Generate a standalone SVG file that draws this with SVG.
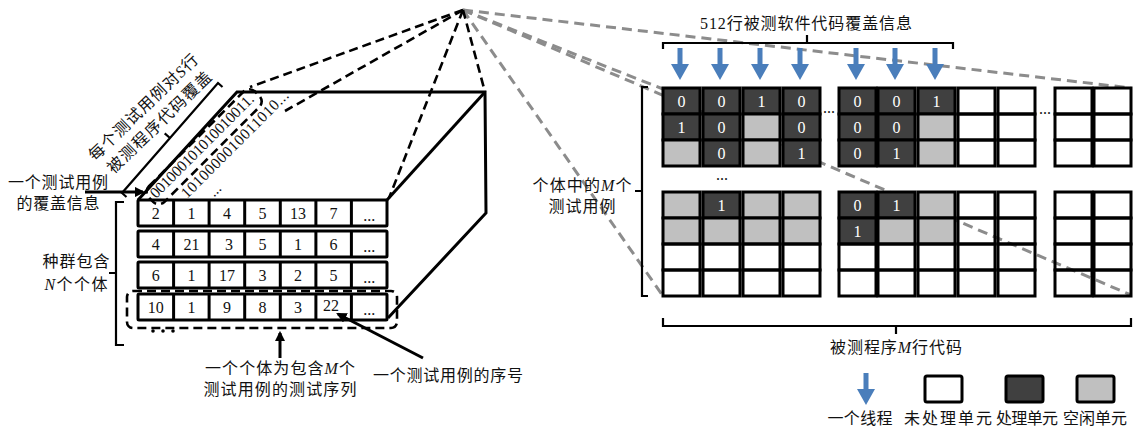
<svg xmlns="http://www.w3.org/2000/svg" width="1134" height="429" viewBox="0 0 1134 429">
<defs>
<style>
text { font-family: "Liberation Serif","Noto Sans CJK SC",serif; fill:#111; }
.lbl { font-size:16px; }
.mid { text-anchor:middle; }
.num { font-size:16px; text-anchor:middle; }
.wn { font-size:16px; text-anchor:middle; fill:#fff; }
.row { fill:none; stroke:#000; stroke-width:3; }
.dv { stroke:#000; stroke-width:3; }
.c { stroke:#000; stroke-width:3; }
.d { fill:#404040; } .g { fill:#c0c0c0; } .w { fill:none; } .lw { fill:#fff; }
.bd { fill:none; stroke:#000; stroke-width:2.6; stroke-dasharray:9 5; }
.gd { fill:none; stroke:#8c8c8c; stroke-width:3; stroke-dasharray:10 6; }
.sl { fill:none; stroke:#000; stroke-width:3; }
.br { fill:none; stroke:#000; stroke-width:2.2; }
.it { font-style:italic; }
.bin { font-size:15.5px; }
</style>
<marker id="ah" viewBox="0 0 10 10" refX="8" refY="5" markerWidth="3.5" markerHeight="3.5" orient="auto"><path d="M0,0 L10,5 L0,10 Z" fill="#000"/></marker>
<path id="ba" d="M-2.5,0 H2.5 V16 H9 L0,32 L-9,16 H-2.5 Z" fill="#4a7ebb"/>
</defs>
<rect x="0" y="0" width="1134" height="429" fill="#fff"/>

<!-- connectors (drawn first so that filled cells cover them) -->
<g id="connectors">
<path class="gd" d="M463,10 L1131,88"/>
<path class="gd" d="M463,10 L663,89"/>
<path class="gd" d="M463,10 L663,296"/>
<path class="gd" d="M463,10 L1131,295"/>
<path class="bd" d="M463,10 L250,87"/>
<path class="bd" d="M463,10 L285,111"/>
<path class="bd" d="M463,10 L389,198"/>
<path class="bd" d="M463,10 L485,92"/>
<path class="sl" d="M85,192 L143,192" marker-end="url(#ah)"/>
<path class="sl" d="M280,358 L280,333" marker-end="url(#ah)"/>
<path class="sl" d="M423,358 L338,314" marker-end="url(#ah)"/>
</g>

<!-- left 3D box -->
<g id="box3d" class="sl">
<path d="M138,200 L237,92 L485,92 L486,213 L388,318"/>
<path d="M387,200 L485,92"/>
</g>

<!-- binary strings -->
<g id="bits" transform="translate(156,199) rotate(-45)">
<rect x="-4" y="-14" width="150" height="22" rx="8" class="bd"/>
<text class="bin" x="0" y="0" textLength="140">001000101010010011.</text>
<text class="bin" x="22" y="22" textLength="145">1010000010011010...</text>
<text class="bin" x="42" y="40">...</text>
</g>

<g id="cover-label">
<text class="lbl" transform="translate(143,107) rotate(-44)" text-anchor="middle" y="6" textLength="145">每个测试用例对<tspan class="it">S</tspan>行</text>
<text class="lbl" transform="translate(159,122) rotate(-44)" text-anchor="middle" y="6" textLength="138">被测程序代码覆盖</text>
<path class="br" d="M126.5,197 L122,193 L218,83 L222.5,87 M170,138 L164.7,133.4"/>
</g>

<g id="tc-label">
<text class="lbl mid" x="58" y="188" textLength="100">一个测试用例</text>
<text class="lbl mid" x="58" y="209" textLength="83">的覆盖信息</text>
</g>

<g id="pop-label">
<path class="br" d="M124,202 L116,202 L116,345 L124,345 M116,273 L109,273"/>
<text class="lbl mid" x="76" y="267" textLength="67">种群包含</text>
<text class="lbl mid" x="76" y="290" textLength="63"><tspan class="it">N</tspan>个个体</text>
</g>

<!-- rows -->
<g id="row1">
<rect class="row" x="138" y="200" width="249" height="26" rx="1"/>
<path class="dv" d="M173.6,200V226M209.1,200V226M244.7,200V226M280.3,200V226M315.9,200V226M351.4,200V226"/>
<text class="num" x="155.8" y="219">2</text><text class="num" x="191.4" y="219">1</text><text class="num" x="226.9" y="219">4</text><text class="num" x="262.5" y="219">5</text><text class="num" x="298.1" y="219">13</text><text class="num" x="333.6" y="219">7</text><text class="num" x="369.2" y="221" font-size="12">...</text>
</g>
<g id="row2">
<rect class="row" x="138" y="231" width="249" height="26" rx="1"/>
<path class="dv" d="M173.6,231V257M209.1,231V257M244.7,231V257M280.3,231V257M315.9,231V257M351.4,231V257"/>
<text class="num" x="155.8" y="250">4</text><text class="num" x="191.4" y="250">21</text><text class="num" x="229" y="250">3</text><text class="num" x="262.5" y="250">5</text><text class="num" x="298.1" y="250">1</text><text class="num" x="333.6" y="250">6</text><text class="num" x="369.2" y="252" font-size="12">...</text>
</g>
<g id="row3">
<rect class="row" x="138" y="262" width="249" height="26" rx="1"/>
<path class="dv" d="M173.6,262V288M209.1,262V288M244.7,262V288M280.3,262V288M315.9,262V288M351.4,262V288"/>
<text class="num" x="155.8" y="281">6</text><text class="num" x="191.4" y="281">1</text><text class="num" x="226.9" y="281">17</text><text class="num" x="262.5" y="281">3</text><text class="num" x="298.1" y="281">2</text><text class="num" x="333.6" y="281">5</text><text class="num" x="369.2" y="283" font-size="12">...</text>
</g>
<g id="row4">
<rect class="row" x="138" y="294" width="249" height="26" rx="1"/>
<path class="dv" d="M173.6,294V320M209.1,294V320M244.7,294V320M280.3,294V320M315.9,294V320M351.4,294V320"/>
<text class="num" x="155.8" y="313">10</text><text class="num" x="191.4" y="313">1</text><text class="num" x="226.9" y="313">9</text><text class="num" x="262.5" y="313">8</text><text class="num" x="298.1" y="313">3</text><text class="num" x="331" y="311">22</text><text class="num" x="369.2" y="315" font-size="12">...</text>
<rect class="bd" x="127" y="291" width="270" height="37" rx="6"/>
<circle cx="153" cy="331" r="1.8"/><circle cx="163" cy="331" r="1.8"/><circle cx="173" cy="331" r="1.8"/>
</g>

<g id="ind-label">
<text class="lbl mid" x="280" y="374" textLength="150">一个个体为包含<tspan class="it">M</tspan>个</text>
<text class="lbl mid" x="280" y="395" textLength="153">测试用例的测试序列</text>
</g>
<g id="seq-label">
<text class="lbl" x="373" y="381" textLength="150">一个测试用例的序号</text>
</g>

<!-- right grid -->
<g id="thread-label">
<text class="lbl mid" x="806" y="29" textLength="212">512行被测软件代码覆盖信息</text>
<path class="br" d="M663,49 L663,43 L953,43 L953,49 M807,43 L807,35"/>
<use href="#ba" x="680" y="48"/><use href="#ba" x="720" y="48"/><use href="#ba" x="760" y="48"/><use href="#ba" x="800" y="48"/>
<use href="#ba" x="856" y="48"/><use href="#ba" x="895" y="48"/><use href="#ba" x="935" y="48"/>
</g>

<g id="m-label">
<path class="br" d="M648,87 L642,87 L642,296 L648,296 M642,191 L635,191"/>
<text class="lbl mid" x="582" y="191" textLength="99">个体中的<tspan class="it">M</tspan>个</text>
<text class="lbl mid" x="582" y="212" textLength="67">测试用例</text>
</g>

<g id="col1">
<rect class="c d" x="663" y="88" width="37" height="26"/><rect class="c d" x="663" y="114" width="37" height="26"/><rect class="c g" x="663" y="140" width="37" height="26"/>
<text class="wn" x="681.5" y="107">0</text><text class="wn" x="681.5" y="133">1</text>
<rect class="c g" x="663" y="192" width="37" height="26"/><rect class="c g" x="663" y="218" width="37" height="26"/><rect class="c w" x="663" y="244" width="37" height="26"/><rect class="c w" x="663" y="270" width="37" height="26"/>
</g>
<g id="col2">
<rect class="c d" x="703" y="88" width="37" height="26"/><rect class="c d" x="703" y="114" width="37" height="26"/><rect class="c d" x="703" y="140" width="37" height="26"/>
<text class="wn" x="721.5" y="107">0</text><text class="wn" x="721.5" y="133">0</text><text class="wn" x="721.5" y="159">0</text>
<rect class="c d" x="703" y="192" width="37" height="26"/><rect class="c g" x="703" y="218" width="37" height="26"/><rect class="c w" x="703" y="244" width="37" height="26"/><rect class="c w" x="703" y="270" width="37" height="26"/>
<text class="wn" x="721.5" y="211">1</text>
</g>
<g id="col3">
<rect class="c d" x="743" y="88" width="37" height="26"/><rect class="c g" x="743" y="114" width="37" height="26"/><rect class="c g" x="743" y="140" width="37" height="26"/>
<text class="wn" x="761.5" y="107">1</text>
<rect class="c g" x="743" y="192" width="37" height="26"/><rect class="c g" x="743" y="218" width="37" height="26"/><rect class="c w" x="743" y="244" width="37" height="26"/><rect class="c w" x="743" y="270" width="37" height="26"/>
</g>
<g id="col4">
<rect class="c d" x="783" y="88" width="37" height="26"/><rect class="c d" x="783" y="114" width="37" height="26"/><rect class="c d" x="783" y="140" width="37" height="26"/>
<text class="wn" x="801.5" y="107">0</text><text class="wn" x="801.5" y="133">0</text><text class="wn" x="801.5" y="159">1</text>
<rect class="c g" x="783" y="192" width="37" height="26"/><rect class="c g" x="783" y="218" width="37" height="26"/><rect class="c w" x="783" y="244" width="37" height="26"/><rect class="c w" x="783" y="270" width="37" height="26"/>
</g>
<g id="col5">
<rect class="c d" x="839" y="88" width="37" height="26"/><rect class="c d" x="839" y="114" width="37" height="26"/><rect class="c d" x="839" y="140" width="37" height="26"/>
<text class="wn" x="857.5" y="107">0</text><text class="wn" x="857.5" y="133">0</text><text class="wn" x="857.5" y="159">0</text>
<rect class="c d" x="839" y="192" width="37" height="26"/><rect class="c d" x="839" y="218" width="37" height="26"/><rect class="c w" x="839" y="244" width="37" height="26"/><rect class="c w" x="839" y="270" width="37" height="26"/>
<text class="wn" x="857.5" y="211">0</text><text class="wn" x="857.5" y="237">1</text>
</g>
<g id="col6">
<rect class="c d" x="878" y="88" width="37" height="26"/><rect class="c d" x="878" y="114" width="37" height="26"/><rect class="c d" x="878" y="140" width="37" height="26"/>
<text class="wn" x="896.5" y="107">0</text><text class="wn" x="896.5" y="133">0</text><text class="wn" x="896.5" y="159">1</text>
<rect class="c d" x="878" y="192" width="37" height="26"/><rect class="c g" x="878" y="218" width="37" height="26"/><rect class="c w" x="878" y="244" width="37" height="26"/><rect class="c w" x="878" y="270" width="37" height="26"/>
<text class="wn" x="896.5" y="211">1</text>
</g>
<g id="col7">
<rect class="c d" x="918" y="88" width="37" height="26"/><rect class="c g" x="918" y="114" width="37" height="26"/><rect class="c g" x="918" y="140" width="37" height="26"/>
<text class="wn" x="936.5" y="107">1</text>
<rect class="c g" x="918" y="192" width="37" height="26"/><rect class="c g" x="918" y="218" width="37" height="26"/><rect class="c w" x="918" y="244" width="37" height="26"/><rect class="c w" x="918" y="270" width="37" height="26"/>
</g>
<g id="col8">
<rect class="c w" x="958" y="88" width="37" height="26"/><rect class="c w" x="958" y="114" width="37" height="26"/><rect class="c w" x="958" y="140" width="37" height="26"/>
<rect class="c w" x="958" y="192" width="37" height="26"/><rect class="c w" x="958" y="218" width="37" height="26"/><rect class="c w" x="958" y="244" width="37" height="26"/><rect class="c w" x="958" y="270" width="37" height="26"/>
</g>
<g id="col9">
<rect class="c w" x="998" y="88" width="37" height="26"/><rect class="c w" x="998" y="114" width="37" height="26"/><rect class="c w" x="998" y="140" width="37" height="26"/>
<rect class="c w" x="998" y="192" width="37" height="26"/><rect class="c w" x="998" y="218" width="37" height="26"/><rect class="c w" x="998" y="244" width="37" height="26"/><rect class="c w" x="998" y="270" width="37" height="26"/>
</g>
<g id="col10">
<rect class="c w" x="1055" y="88" width="37" height="26"/><rect class="c w" x="1055" y="114" width="37" height="26"/><rect class="c w" x="1055" y="140" width="37" height="26"/>
<rect class="c w" x="1055" y="192" width="37" height="26"/><rect class="c w" x="1055" y="218" width="37" height="26"/><rect class="c w" x="1055" y="244" width="37" height="26"/><rect class="c w" x="1055" y="270" width="37" height="26"/>
</g>
<g id="col11">
<rect class="c w" x="1094" y="88" width="37" height="26"/><rect class="c w" x="1094" y="114" width="37" height="26"/><rect class="c w" x="1094" y="140" width="37" height="26"/>
<rect class="c w" x="1094" y="192" width="37" height="26"/><rect class="c w" x="1094" y="218" width="37" height="26"/><rect class="c w" x="1094" y="244" width="37" height="26"/><rect class="c w" x="1094" y="270" width="37" height="26"/>
</g>
<g id="grid-dots">
<text class="num" x="829" y="113" font-size="12">...</text>
<text class="num" x="1045" y="114" font-size="12">...</text>
<text class="num" x="722" y="180" font-size="12">...</text>
</g>

<g id="lines-label">
<path class="br" d="M663,318 L663,326 L1131,326 L1131,318 M896,326 L896,334"/>
<text class="lbl mid" x="896" y="353" textLength="132">被测程序<tspan class="it">M</tspan>行代码</text>
</g>

<!-- legend -->
<g id="legend">
<use href="#ba" x="866" y="373"/>
<rect class="c lw" x="925" y="376" width="37" height="26" rx="2"/>
<rect class="c d" x="1006" y="376" width="37" height="26" rx="2"/>
<rect class="c g" x="1077" y="376" width="37" height="26" rx="2"/>
<text class="lbl mid" x="860" y="424" textLength="65">一个线程</text>
<text class="lbl mid" x="948" y="424" textLength="88">未处理单元</text>
<text class="lbl mid" x="1027" y="424" textLength="62">处理单元</text>
<text class="lbl mid" x="1095" y="424" textLength="64">空闲单元</text>
</g>
</svg>
